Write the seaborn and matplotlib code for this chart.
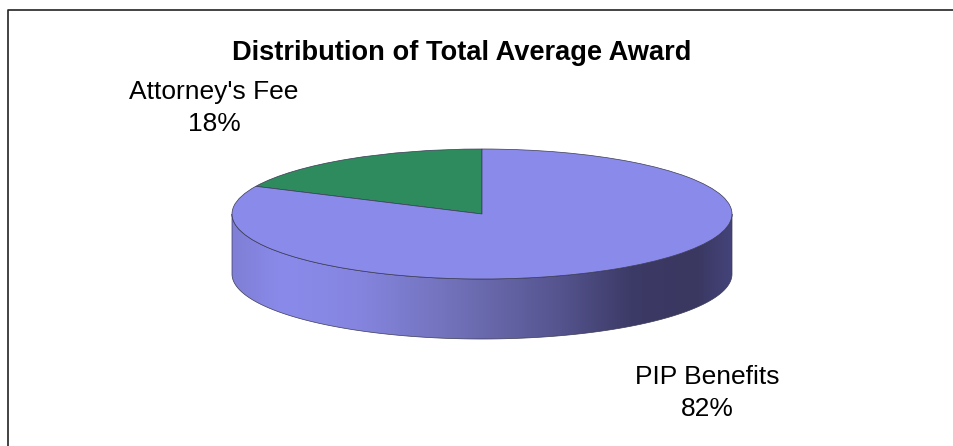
import numpy as np
import matplotlib
matplotlib.use("Agg")
import matplotlib.pyplot as plt
from matplotlib.colors import LinearSegmentedColormap
from matplotlib.patches import Polygon
import seaborn as sns

title = "Distribution of Total Average Award"
labels = ["Attorney's Fee", "PIP Benefits"]
values = [18, 82]
colors = ["#2E8B5E", "#8A8AEB"]

W, H = 954, 446
CX, CY, RX, RY, DEPTH = 482, 214, 250, 65, 60

sns.set_theme(style="white")
plt.rcParams["font.family"] = ["Liberation Sans", "DejaVu Sans"]

fig = plt.figure(figsize=(W / 100, H / 100), dpi=100, facecolor="white")
ax = fig.add_axes([0, 0, 1, 1])
wedges, _ = ax.pie(values, colors=sns.color_palette(colors), startangle=90, counterclock=True,
                   radius=1, wedgeprops=dict(edgecolor="#3a3a55", linewidth=0.5))
for w in wedges:
    w.set_zorder(3)
ax.set_aspect("auto")
ax.axis("off")

# Side wall of the disc, shaded left to right
d = DEPTH / RY
t = np.linspace(np.pi, 2 * np.pi, 300)
wall = np.r_[np.c_[np.cos(t), np.sin(t) - d], np.c_[np.cos(t[::-1]), np.sin(t[::-1])]]
cmap = LinearSegmentedColormap.from_list("wall", [
    (0.00, "#7f7fd6"), (0.10, "#8A8AEB"), (0.25, "#8585E0"), (0.45, "#7070B8"),
    (0.65, "#565590"), (0.80, "#3C3A66"), (0.93, "#3A3860"), (1.00, "#44437A")])
poly = Polygon(wall, closed=True, facecolor="none", edgecolor="#3a3a55", linewidth=0.5, zorder=2)
ax.add_patch(poly)
im = ax.imshow(np.linspace(0, 1, 256)[None, :], cmap=cmap, extent=(-1, 1, -1 - d, 0.2),
               aspect="auto", zorder=1)
im.set_clip_path(poly)
ax.set_xlim((0 - CX) / RX, (W - CX) / RX)
ax.set_ylim((CY - H) / RY, (CY - 0) / RY)

def px(x, y):
    return x / W, 1 - y / H

# Chart frame: left and top sides only run to the image edge
fig.add_artist(plt.Line2D([8 / W, 8 / W, 1], [0, 1 - 10 / H, 1 - 10 / H], color="#222222", lw=1.2))

fig.text(*px(462, 53), title, ha="center", va="center", fontsize=19.6, fontweight="bold", color="black")
fig.text(*px(214, 108), f"{labels[0]}\n{values[0]}%", ha="center", va="center", fontsize=19.0,
         color="black", linespacing=1.37)
fig.text(*px(707, 393), f"{labels[1]}\n{values[1]}%", ha="center", va="center", fontsize=19.0,
         color="black", linespacing=1.37)

fig.savefig("out.png", dpi=100)
